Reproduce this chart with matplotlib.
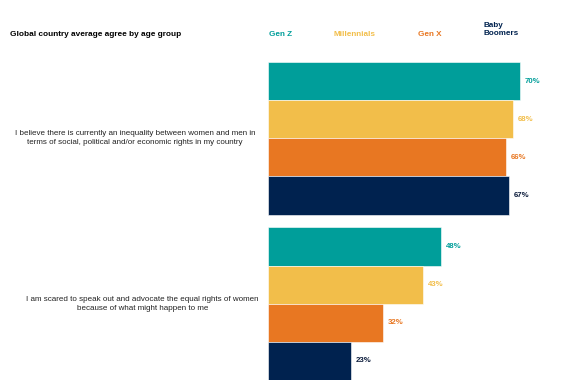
import numpy as np
import matplotlib.pyplot as plt

plt.rcParams['font.family'] = ['Liberation Sans', 'DejaVu Sans']

title = "Global country average agree by age group"
statements = [
    "I believe there is currently an inequality between women and men in\nterms of social, political and/or economic rights in my country",
    "I am scared to speak out and advocate the equal rights of women\nbecause of what might happen to me",
]
groups = ["Gen Z", "Millennials", "Gen X", "Baby\nBoomers"]
values = [
    [70, 68, 66, 67],
    [48, 43, 32, 23],
]
colors = ["#009E9A", "#F2BE4A", "#E87722", "#00224F"]
label_colors = ["#009E9A", "#F2BE4A", "#E87722", "#0A1A3A"]

W, H = 565, 391
fig = plt.figure(figsize=(W / 100, H / 100), dpi=100)


def px(x, y):
    return x / W, 1 - y / H


# axes in pixel box: left 268, top 62, bottom 380
left, top, bottom = 268, 62, 380
ax = fig.add_axes([left / W, 1 - bottom / H, (W - left) / W, (bottom - top) / H])
gap = 0.34
pos = []
for gi, vals in enumerate(values):
    base = gi * (len(groups) + gap)
    for k, v in enumerate(vals):
        y = base + k
        pos.append(y)
        ax.barh(y, v, height=1.0, color=colors[k], edgecolor="white", linewidth=0.4)
        ax.text(v + 1.4, y, f"{v}%", va="center", ha="left", fontsize=5.6,
                fontweight="bold", color=label_colors[k])
ax.set_xlim(0, (W - left) / 3.6)
ax.set_ylim(max(pos) + 0.5, -0.5)
ax.axis("off")

fig.text(*px(10, 34.5), title, fontsize=5.95, fontweight="bold", va="center", ha="left")
header_x = [281, 355, 430, 483]
for k, g in enumerate(groups):
    if "\n" in g:
        fig.text(*px(header_x[k], 29.5), g, fontsize=5.9, fontweight="bold",
                 color=colors[k], va="center", ha="left", linespacing=1.25)
    else:
        fig.text(*px(header_x[k], 34.5), g, fontsize=5.9, fontweight="bold",
                 color=colors[k], va="center", ha="center")

stmt_x = [135, 142.5]
stmt_y = [138, 304]
for s, x, y in zip(statements, stmt_x, stmt_y):
    fig.text(*px(x, y), s, fontsize=5.8, ha="center", va="center",
             color="#222222", linespacing=1.35)

fig.savefig("out.png", dpi=100)
